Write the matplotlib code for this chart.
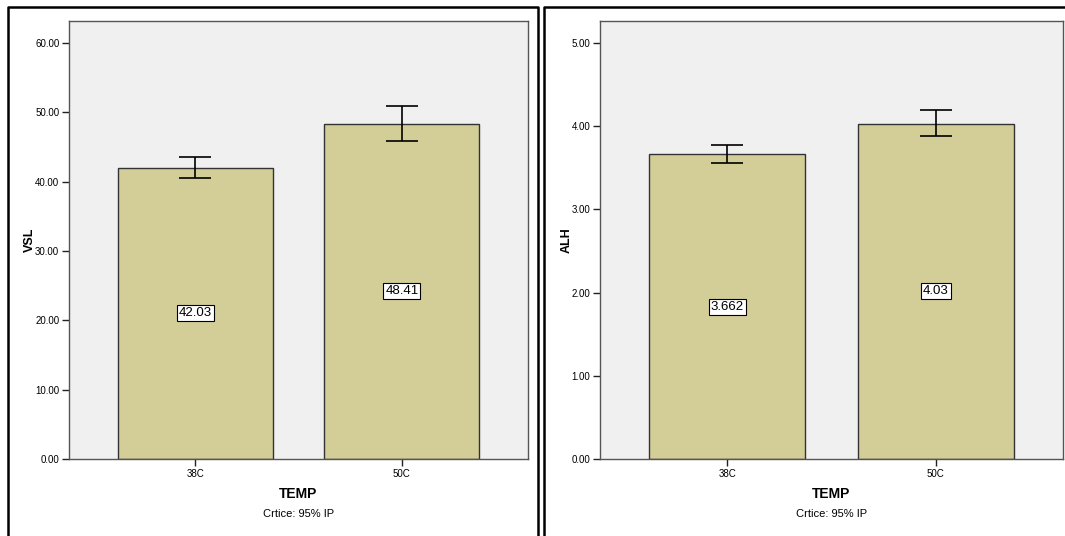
import numpy as np
import matplotlib
matplotlib.use("Agg")
import matplotlib.pyplot as plt
from matplotlib.lines import Line2D

plt.rcParams['font.family'] = ['Liberation Sans', 'DejaVu Sans']

groups = ['38C', '50C']
vsl_mean = [42.03, 48.41]
vsl_lo = [40.5, 45.9]
vsl_hi = [43.6, 50.9]
vsl_labels = ['42.03', '48.41']
vsl_ticks = [0, 10, 20, 30, 40, 50, 60]

alh_mean = [3.662, 4.03]
alh_lo = [3.56, 3.88]
alh_hi = [3.77, 4.19]
alh_labels = ['3.662', '4.03']
alh_ticks = [0, 1, 2, 3, 4, 5]

W, H = 1065, 536
fig = plt.figure(figsize=(W / 100, H / 100), dpi=100)

bar_col = '#d3ce98'
bg_col = '#f0f0f0'


def panel(left, right, mean, lo, hi, labels, ticks, ytop, ylab, ylab_x):
    ax = fig.add_axes([left / W, (H - 459) / H, (right - left) / W, 438 / H])
    x = np.arange(len(groups))
    mean = np.array(mean)
    err = [mean - np.array(lo), np.array(hi) - mean]
    ax.set_facecolor(bg_col)
    ax.bar(x, mean, width=0.75, color=bar_col, edgecolor='#333333', linewidth=1, zorder=2)
    ax.errorbar(x, mean, yerr=err, fmt='none', ecolor='black', elinewidth=1.2,
                capsize=11.5, capthick=1.2, zorder=3)
    for xi, m, t in zip(x, mean, labels):
        ax.text(xi, m / 2, t, ha='center', va='center', fontsize=9.5, zorder=4,
                bbox=dict(boxstyle='square,pad=0.15', fc='white', ec='black', lw=0.8))
    ax.set_xlim(-0.61, 1.61)
    ax.set_ylim(0, ytop)
    ax.set_xticks(x)
    ax.set_xticklabels(groups, fontsize=7)
    ax.set_yticks(ticks)
    ax.set_yticklabels(['%.2f' % t for t in ticks], fontsize=7)
    ax.tick_params(axis='both', length=5, width=1, color='#222222', pad=2)
    for s in ax.spines.values():
        s.set_color('#555555')
        s.set_linewidth(1)
    ax.set_ylabel(ylab, fontsize=9, fontweight='bold')
    ax.yaxis.set_label_coords((ylab_x - left) / (right - left), 0.5)
    cx = (left + right) / 2 / W
    fig.text(cx, 1 - 494 / H, 'TEMP', ha='center', va='center', fontsize=10, fontweight='bold')
    fig.text(cx, 1 - 514 / H, 'Crtice: 95% IP', ha='center', va='center', fontsize=8)
    return ax


panel(69, 528, vsl_mean, vsl_lo, vsl_hi, vsl_labels, vsl_ticks, 63.2, 'VSL', 36)
panel(600, 1063, alh_mean, alh_lo, alh_hi, alh_labels, alh_ticks, 5.264, 'ALH', 573)

# outer frames
def fl(xs, ys):
    fig.add_artist(Line2D([v / W for v in xs], [1 - v / H for v in ys],
                          color='black', lw=1.8, transform=fig.transFigure))

fl([7.5, 7.5, 537.5, 537.5], [540, 6.5, 6.5, 540])
fl([543.5, 543.5, 1070], [540, 6.5, 6.5])

fig.savefig('out.png', dpi=100)
